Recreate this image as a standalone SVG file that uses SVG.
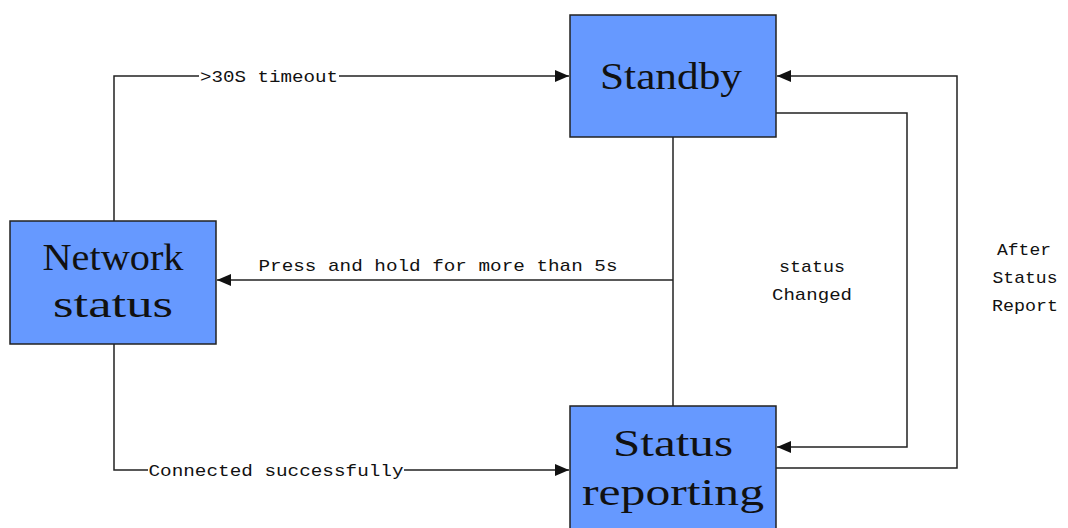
<svg xmlns="http://www.w3.org/2000/svg" width="1068" height="528" viewBox="0 0 1068 528">
<style>
.node{fill:#6699FF;stroke:#222;stroke-width:1.5}
.nl{font-family:"Liberation Serif",serif;font-size:37px;fill:#111;text-anchor:middle}
.edge{fill:none;stroke:#222;stroke-width:1.5}
.lbl{font-family:"Liberation Mono",monospace;font-size:17px;fill:#111;text-anchor:middle}
.bg{fill:#fff}
</style>
<defs>
<marker id="arr" viewBox="0 0 14 12" refX="14" refY="6" markerWidth="14" markerHeight="12" markerUnits="userSpaceOnUse" orient="auto">
<path d="M0,0 L14,6 L0,12 Z" fill="#111"/>
</marker>
</defs>
<rect width="1068" height="528" fill="#fff"/>
<g id="connectors">
<path class="edge" d="M114,221 V76 H569" marker-end="url(#arr)"/>
<path class="edge" d="M114,344 V470 H569" marker-end="url(#arr)"/>
<path class="edge" d="M673,137 V406"/>
<path class="edge" d="M673,280 H217" marker-end="url(#arr)"/>
<path class="edge" d="M776,113 H907 V447 H777" marker-end="url(#arr)"/>
<path class="edge" d="M776,468 H957 V76 H777" marker-end="url(#arr)"/>
<rect class="bg" x="199" y="66" width="140" height="20"/>
<text class="lbl" x="269" y="82" textLength="138" lengthAdjust="spacingAndGlyphs">&gt;30S timeout</text>
<rect class="bg" x="148" y="460" width="256" height="20"/>
<text class="lbl" x="276" y="476" textLength="255" lengthAdjust="spacingAndGlyphs">Connected successfully</text>
<text class="lbl" x="438" y="271" textLength="359" lengthAdjust="spacingAndGlyphs">Press and hold for more than 5s</text>
<text class="lbl" x="812" y="272" textLength="66" lengthAdjust="spacingAndGlyphs">status</text>
<text class="lbl" x="812" y="300" textLength="80" lengthAdjust="spacingAndGlyphs">Changed</text>
<text class="lbl" x="1024" y="255" textLength="54" lengthAdjust="spacingAndGlyphs">After</text>
<text class="lbl" x="1025" y="283" textLength="65" lengthAdjust="spacingAndGlyphs">Status</text>
<text class="lbl" x="1025" y="311" textLength="66" lengthAdjust="spacingAndGlyphs">Report</text>
</g>
<g id="network-status">
<rect class="node" x="10" y="221" width="206" height="123"/>
<text class="nl" x="113" y="270" textLength="141" lengthAdjust="spacingAndGlyphs">Network</text>
<text class="nl" x="113" y="317" textLength="120" lengthAdjust="spacingAndGlyphs">status</text>
</g>
<g id="standby">
<rect class="node" x="570" y="15" width="206" height="122"/>
<text class="nl" x="671" y="89" textLength="142" lengthAdjust="spacingAndGlyphs">Standby</text>
</g>
<g id="status-reporting">
<rect class="node" x="570" y="406" width="206" height="130"/>
<text class="nl" x="673" y="456" textLength="120" lengthAdjust="spacingAndGlyphs">Status</text>
<text class="nl" x="673" y="505" textLength="182" lengthAdjust="spacingAndGlyphs">reporting</text>
</g>
</svg>
